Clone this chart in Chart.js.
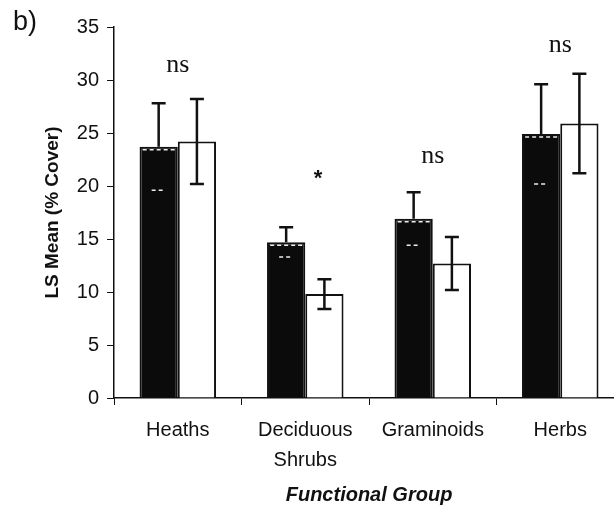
<!DOCTYPE html>
<html>
<head>
<meta charset="utf-8">
<script src="https://cdn.jsdelivr.net/npm/chart.js@4/dist/chart.umd.min.js"></script>
<style>
    html, body { margin: 0; padding: 0; background: #fff; overflow: hidden; }
    #wrap { position: relative; width: 624px; height: 505px; }
    #panel { position: absolute; left: 13px; top: 6px; font: 27px "Liberation Sans", Arial, sans-serif; color: #111; }
</style>
</head>
<body>
<div id="wrap">
    <canvas id="chart"></canvas>
    <div id="panel">b)</div>
</div>
<script>
// Functional group cover, two treatments (dark / open bars)
const groups = ['Heaths', ['Deciduous', 'Shrubs'], 'Graminoids', 'Herbs'];
const darkMeans = [23.7, 14.7, 16.9, 24.9];
const darkErr = [4.1, 1.4, 2.5, 4.7];
const openMeans = [24.2, 9.8, 12.7, 25.9];
const openErr = [4.0, 1.4, 2.5, 4.7];
const sigLabels = ['ns', '*', 'ns', 'ns'];
const sigLevel = [31.4, 21.0, 22.8, 33.3];
const sigShift = [0, 0.1, 0, 0];
const yTicks = [0, 5, 10, 15, 20, 25, 30, 35];

const errs = [darkErr, openErr];
const sans = '"Liberation Sans", Arial, sans-serif';

const errorBars = {
    id: 'errorBars',
    afterDatasetsDraw(chart) {
        const c = chart.ctx;
        const y = chart.scales.y;
        chart.data.datasets.forEach((ds, di) => {
            const meta = chart.getDatasetMeta(di);
            meta.data.forEach((bar, i) => {
                const v = ds.data[i], e = errs[di][i];
                const x = bar.x;
                const yTop = y.getPixelForValue(v + e);
                const yBot = y.getPixelForValue(v - e);
                const yv = y.getPixelForValue(v);
                const cap = 7;
                c.save();
                c.lineWidth = 2.5;
                c.strokeStyle = '#111';
                c.beginPath();
                c.moveTo(x, yTop); c.lineTo(x, di === 0 ? yv : yBot);
                c.moveTo(x - cap, yTop); c.lineTo(x + cap, yTop);
                if (di === 1) { c.moveTo(x - cap, yBot); c.lineTo(x + cap, yBot); }
                c.stroke();
                if (di === 0) {
                    // lower whisker shows as white dashes inside the dark bar
                    c.strokeStyle = '#eee';
                    c.lineWidth = 1.5;
                    c.setLineDash([4, 3]);
                    c.beginPath();
                    c.moveTo(x - cap, yBot); c.lineTo(x + cap, yBot);
                    c.moveTo(x - 16, yv + 3); c.lineTo(x + 16, yv + 3);
                    c.stroke();
                }
                c.restore();
            });
        });
        // significance labels
        const xs = chart.scales.x;
        c.save();
        c.fillStyle = '#111';
        c.textAlign = 'center';
        c.textBaseline = 'middle';
        sigLabels.forEach((s, i) => {
            c.font = s === '*' ? 'bold 22px ' + sans : '26px "Liberation Serif", "Times New Roman", serif';
            c.fillText(s, xs.getPixelForValue(i + sigShift[i]), y.getPixelForValue(sigLevel[i]) + (s === '*' ? 4 : 0));
        });
        c.restore();
    }
};

new Chart(document.getElementById('chart'), {
    type: 'bar',
    data: {
        labels: groups,
        datasets: [{
            data: darkMeans,
            backgroundColor: '#0b0b0b',
            borderColor: '#111',
            borderWidth: 2
        }, {
            data: openMeans,
            backgroundColor: '#fff',
            borderColor: '#111',
            borderWidth: 2
        }]
    },
    options: {
        responsive: true,
        maintainAspectRatio: false,
        animation: false,
        layout: { padding: { top: 27, right: 0, left: 41, bottom: 0 } },
        categoryPercentage: 0.6,
        barPercentage: 1.0,
        plugins: { legend: { display: false }, tooltip: { enabled: false } },
        scales: {
            x: {
                border: { color: '#111', width: 1.5 },
                grid: { drawOnChartArea: false, color: '#111', tickLength: 7, offset: true },
                ticks: { color: '#111', font: { family: sans, size: 20, lineHeight: 1.5 }, maxRotation: 0, padding: 10 },
                title: {
                    display: true, text: 'Functional Group', color: '#111',
                    font: { family: sans, size: 20, weight: 'bold', style: 'italic', lineHeight: 1.0 },
                    padding: { top: 0, bottom: 0 }
                }
            },
            y: {
                min: 0, max: 35,
                afterBuildTicks(ax) { ax.ticks = yTicks.map(v => ({ value: v })); },
                border: { color: '#111', width: 1.5 },
                grid: { drawOnChartArea: false, color: '#111', tickLength: 7 },
                ticks: { color: '#111', font: { family: sans, size: 20 }, padding: 8 },
                title: {
                    display: true, text: 'LS Mean (% Cover)', color: '#111',
                    font: { family: sans, size: 19, weight: 'bold' },
                    padding: { top: 0, bottom: 5 }
                }
            }
        }
    },
    plugins: [errorBars]
});
</script>
</body>
</html>
